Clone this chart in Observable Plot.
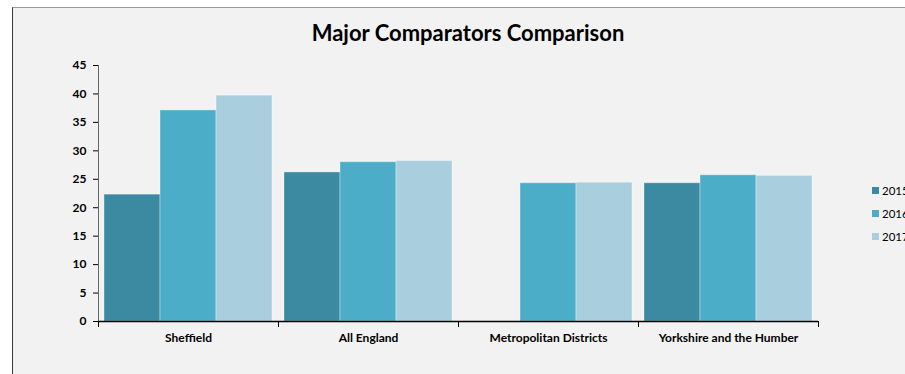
<!DOCTYPE html>
<html><head><meta charset="utf-8">
<script src="https://cdn.jsdelivr.net/npm/d3@7"></script>
<script src="https://cdn.jsdelivr.net/npm/@observablehq/plot@0.6"></script>
<style>
body{margin:0;background:#fff;width:905px;height:374px;overflow:hidden;position:relative;font-family:Lato,sans-serif}
#frame{position:absolute;left:12px;top:7px;width:1000px;height:400px;background:#f2f2f2;border-top:1px solid #9a9a9a;border-left:1px solid #3a3a3a}
#title{position:absolute;left:0;width:936px;top:20px;text-align:center;font-weight:700;font-size:22px;color:#000;line-height:26px}
#chart{position:absolute;left:0;top:47px}
#legend{position:absolute;left:872px;top:179px;font-size:11.5px;color:#000}
.item{display:flex;align-items:center;height:23px;white-space:nowrap}
.sw{width:7px;height:7px;margin-right:3px;flex:none}
</style></head><body>
<div id="frame"></div>
<div id="title">Major Comparators Comparison</div>
<div id="chart"></div>
<div id="legend"></div>
<script>
const categories = ["Sheffield", "All England", "Metropolitan Districts", "Yorkshire and the Humber"];
const years = ["2015", "2016", "2017"];
const v2015 = [22.3, 26.2, null, 24.3];
const v2016 = [37.1, 28.0, 24.3, 25.7];
const v2017 = [39.7, 28.2, 24.4, 25.6];
const yTicks = [0, 5, 10, 15, 20, 25, 30, 35, 40, 45];
const colors = ["#3c8aa1", "#4badc7", "#a9cfde"];

const series = [v2015, v2016, v2017];
const data = [];
categories.forEach((c, i) => years.forEach((y, j) => {
  if (series[j][i] != null) data.push({cat: c, year: y, value: series[j][i]});
}));

const H = 327, MT = 18, MB = 53;
const plotH = H - MT - MB;

const chart = Plot.plot({
  width: 905, height: H,
  marginLeft: 98, marginRight: 87, marginTop: MT, marginBottom: MB,
  style: {background: "transparent", fontFamily: "Lato, sans-serif", fontSize: "12px", fontWeight: "bold", color: "#000"},
  fx: {domain: categories, padding: 0, label: null, axis: "bottom", tickSize: 0, tickPadding: 12},
  x: {domain: years, paddingInner: 0, paddingOuter: 0.08, axis: null},
  y: {domain: [0, 45], ticks: yTicks, tickSize: 5, tickPadding: 7, label: null},
  color: {domain: years, range: colors},
  marks: [
    Plot.barY(data, {fx: "cat", x: "year", y: "value", fill: "year", stroke: "#ffffff", strokeOpacity: 0.35, strokeWidth: 1}),
    Plot.frame({anchor: "left", fx: categories[0], stroke: "#666"}),
    Plot.ruleY([0], {stroke: "#000", strokeWidth: 1.3}),
    Plot.frame({anchor: "left", insetTop: plotH, insetBottom: -5, stroke: "#000"}),
    Plot.frame({anchor: "right", insetTop: plotH, insetBottom: -5, stroke: "#000"})
  ]
});
document.getElementById("chart").append(chart);

const legend = document.getElementById("legend");
years.forEach((y, j) => {
  const it = document.createElement("div");
  it.className = "item";
  const sw = document.createElement("span");
  sw.className = "sw";
  sw.style.background = colors[j];
  const t = document.createElement("span");
  t.textContent = y;
  it.append(sw, t);
  legend.append(it);
});
</script>
</body></html>
